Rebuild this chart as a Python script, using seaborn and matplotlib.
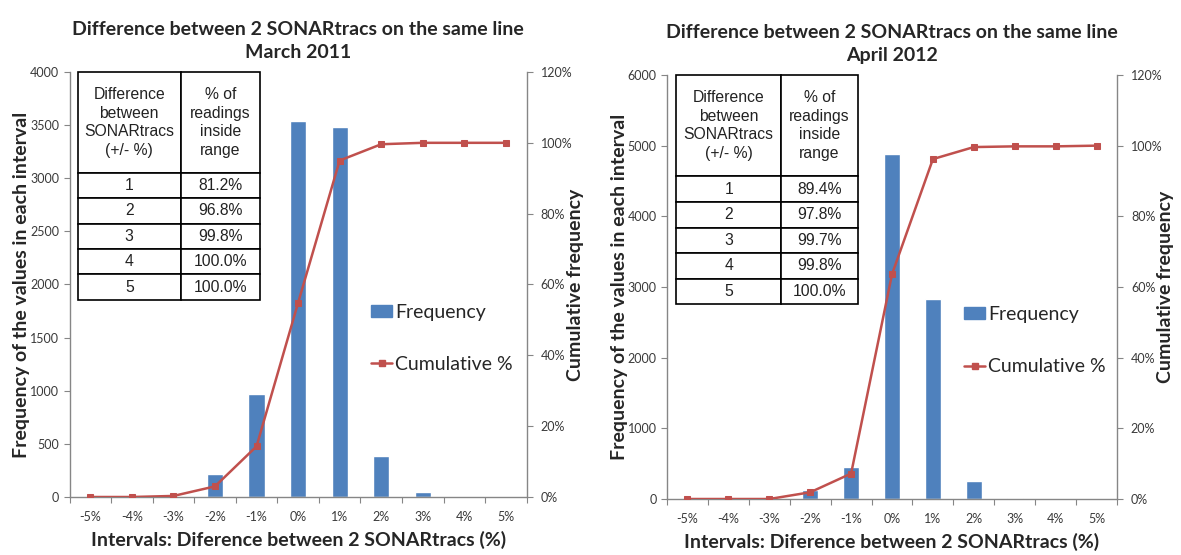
import numpy as np
import matplotlib
matplotlib.use("Agg")
import matplotlib.pyplot as plt
import seaborn as sns
from matplotlib.patches import Patch
from matplotlib.lines import Line2D
from matplotlib.ticker import FuncFormatter, FixedLocator

sns.set_theme(style="white")
plt.rcParams['font.family'] = ['Lato', 'DejaVu Sans']

# Data
intervals = ['-5%', '-4%', '-3%', '-2%', '-1%', '0%', '1%', '2%', '3%', '4%', '5%']

freq_2011 = [0, 0, 0, 215, 970, 3540, 3480, 385, 50, 0, 0]
cum_2011 = [0.0, 0.0, 0.3, 3.0, 14.3, 54.8, 95.0, 99.6, 100.0, 100.0, 100.0]
table_2011 = ['81.2%', '96.8%', '99.8%', '100.0%', '100.0%']

freq_2012 = [0, 0, 0, 125, 450, 4880, 2825, 260, 10, 0, 0]
cum_2012 = [0.0, 0.0, 0.0, 1.9, 7.2, 63.6, 96.2, 99.6, 99.8, 99.8, 100.0]
table_2012 = ['89.4%', '97.8%', '99.7%', '99.8%', '100.0%']

table_rows = ['1', '2', '3', '4', '5']
table_head = ['Difference\nbetween\nSONARtracs\n(+/- %)', '% of\nreadings\ninside\nrange']

BLUE = '#4F81BD'
RED = '#C0504D'
GREY = '#868686'
TXT = '#3a3a3a'

fig = plt.figure(figsize=(11.81, 5.55), dpi=100)


def panel(rect, freq, cum, ymax, tbl, title, tbl_bbox, col0):
    ax = fig.add_axes(rect)
    sns.barplot(x=intervals, y=freq, order=intervals, color=BLUE, saturation=1,
                width=0.39, ax=ax)
    ax2 = ax.twinx()
    sns.lineplot(x=np.arange(len(intervals)), y=cum, ax=ax2, color=RED,
                 marker='s', markersize=5, markeredgecolor=RED, linewidth=1.8)

    ax.set_xlim(-0.5, len(intervals) - 0.5)
    ax.set_ylim(0, ymax)
    ax.set_yticks(np.linspace(0, ymax, 9 if ymax == 4000 else 7))
    ax2.set_ylim(0, 120)
    ax2.set_yticks(np.arange(0, 121, 20))
    ax2.yaxis.set_major_formatter(FuncFormatter(lambda v, p: f'{v:.0f}%'))

    for a in (ax, ax2):
        for s in a.spines.values():
            s.set_visible(False)
    ax.spines['left'].set_visible(True)
    ax.spines['bottom'].set_visible(True)
    ax2.spines['right'].set_visible(True)
    for s in (ax.spines['left'], ax.spines['bottom'], ax2.spines['right']):
        s.set_color(GREY)
        s.set_linewidth(1.0)

    ax.xaxis.set_minor_locator(FixedLocator(np.arange(-0.5, len(intervals), 1.0)))
    ax.tick_params(axis='x', which='major', length=0, pad=10, labelsize=9, labelcolor=TXT)
    ax.tick_params(axis='x', which='minor', bottom=True, length=4, width=0.8, color=GREY)
    ax.tick_params(axis='y', left=True, length=4, width=0.8, color=GREY, pad=3.5,
                   labelsize=9, labelcolor=TXT)
    ax2.tick_params(axis='y', right=True, length=4, width=0.8, color=GREY, pad=6,
                    labelsize=9, labelcolor=TXT)

    ax.set_title(title, fontsize=14, fontweight='bold', pad=10, linespacing=1.45)
    ax.set_xlabel('Intervals: Diference between 2 SONARtracs (%)', fontsize=14,
                  fontweight='bold')
    ax.xaxis.set_label_coords(0.5, -0.08)
    ax.set_ylabel('Frequency of the values in each interval', fontsize=14,
                  fontweight='bold')
    ax.yaxis.set_label_coords(-0.087, 0.5)
    ax2.set_ylabel('Cumulative frequency', fontsize=14, fontweight='bold')
    ax2.yaxis.set_label_coords(1.088, 0.5)

    # table of cumulative percentages
    cells = [table_head] + [[r, v] for r, v in zip(table_rows, tbl)]
    t = ax.table(cellText=cells, cellLoc='center', bbox=tbl_bbox)
    t.auto_set_font_size(False)
    t.set_fontsize(11.3)
    for (r, c), cell in t.get_celld().items():
        cell.set_height(0.396 if r == 0 else 0.1)
        cell.set_width(col0 if c == 0 else 1 - col0)
        cell.set_edgecolor('black')
        cell.set_linewidth(1.2)
        cell.set_facecolor('white')
        cell.get_text().set_fontfamily(['Liberation Sans', 'DejaVu Sans'])
        cell.get_text().set_color('#222222')
        if r == 0:
            cell.get_text().set_linespacing(1.3)

    handles = [Patch(facecolor=BLUE, edgecolor=BLUE),
               Line2D([0], [0], color=RED, marker='s', markersize=5, linewidth=1.8)]
    ax2.legend(handles, ['Frequency', 'Cumulative %'], loc='upper left',
               bbox_to_anchor=(0.638, 0.478), frameon=False, fontsize=14,
               labelspacing=1.8, handlelength=1.1, handleheight=0.55,
               handletextpad=0.15, borderpad=0)
    return ax


panel([0.0589, 0.1045, 0.3870, 0.7658], freq_2011, cum_2011, 4000, table_2011,
      'Difference between 2 SONARtracs on the same line\nMarch 2011',
      [0.018, 0.464, 0.398, 0.536], 0.566)
panel([0.5648, 0.1009, 0.3810, 0.7640], freq_2012, cum_2012, 6000, table_2012,
      'Difference between 2 SONARtracs on the same line\nApril 2012',
      [0.021, 0.459, 0.404, 0.541], 0.574)

fig.savefig('out.png', dpi=100)
